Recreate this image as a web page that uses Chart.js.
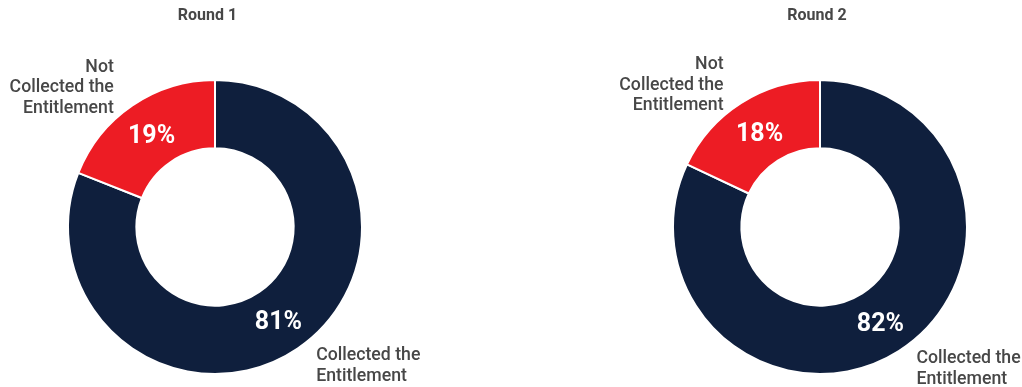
<!DOCTYPE html>
<html>
<head>
<meta charset="utf-8">
<script src="https://cdn.jsdelivr.net/npm/chart.js@4.4.1/dist/chart.umd.min.js"></script>
<style>
  html, body { margin: 0; padding: 0; background: #fff; overflow: hidden; }
  #wrap { position: relative; width: 1022px; height: 387px; }
  .panel { position: absolute; top: 0; height: 387px; }
</style>
</head>
<body>
<div id="wrap">
  <div class="panel" style="left:0;width:430px"><canvas id="round1"></canvas></div>
  <div class="panel" style="left:560px;width:462px"><canvas id="round2"></canvas></div>
</div>
<script>
// Survey rounds and the share of respondents per outcome (percent)
const roundTitles = ['Round 1', 'Round 2'];
const categories = [
  ['Collected the', 'Entitlement'],
  ['Not', 'Collected the', 'Entitlement']
];
const round1Values = [81, 19];
const round2Values = [82, 18];
const sliceColors = ['#0f1f3d', '#ed1c24'];

const TEXT_GREY = '#474747';

// Draws the percentage inside each slice and the category name outside it
const sliceLabels = {
  id: 'sliceLabels',
  afterDatasetsDraw(chart, args, opts) {
    const ctx = chart.ctx;
    const ds = chart.data.datasets[0];
    const total = ds.data.reduce((a, b) => a + b, 0);
    chart.getDatasetMeta(0).data.forEach((arc, i) => {
      const p = arc.getProps(['x', 'y', 'startAngle', 'endAngle', 'innerRadius', 'outerRadius'], true);
      const mid = (p.startAngle + p.endAngle) / 2;
      const cos = Math.cos(mid), sin = Math.sin(mid);

      ctx.save();
      // value inside the ring, caps centred on the ring's mid radius
      const rMid = (p.innerRadius + p.outerRadius) / 2;
      const valueSize = 25;
      ctx.fillStyle = '#ffffff';
      ctx.font = 'bold ' + valueSize + 'px Roboto';
      ctx.textAlign = 'center';
      ctx.textBaseline = 'alphabetic';
      ctx.fillText(Math.round(ds.data[i] / total * 100) + '%',
        p.x + cos * rMid, p.y + sin * rMid + valueSize * 0.355);

      // category name outside the ring
      const ax = p.x + cos * (p.outerRadius + opts.gapX);
      const ay = p.y + sin * (p.outerRadius + opts.gapY);
      const lines = chart.data.labels[i];
      const lh = opts.lineHeight;
      ctx.fillStyle = TEXT_GREY;
      ctx.font = '500 17.7px Roboto';
      ctx.textAlign = cos < 0 ? 'right' : 'left';
      ctx.textBaseline = 'middle';
      const top = ay - (lines.length * lh) / 2 + lh / 2;
      lines.forEach((line, k) => ctx.fillText(line, ax, top + k * lh));
      ctx.restore();
    });
  }
};

// Panel heading drawn above the ring
const panelTitle = {
  id: 'panelTitle',
  afterDraw(chart, args, opts) {
    const ctx = chart.ctx;
    const a = chart.chartArea;
    ctx.save();
    ctx.fillStyle = TEXT_GREY;
    ctx.font = 'bold 16px Roboto';
    ctx.textAlign = 'center';
    ctx.textBaseline = 'middle';
    ctx.fillText(opts.text, (a.left + a.right) / 2 + opts.dx, opts.y);
    ctx.restore();
  }
};

function makeRing(id, title, values, padding, titleDx) {
  return new Chart(document.getElementById(id), {
    type: 'doughnut',
    data: {
      labels: categories,
      datasets: [{
        data: values,
        backgroundColor: sliceColors,
        borderColor: '#ffffff',
        borderWidth: 2,
        radius: 147,
        cutout: '53.5%'
      }]
    },
    options: {
      responsive: true,
      maintainAspectRatio: false,
      animation: false,
      layout: { padding: padding },
      plugins: {
        legend: { display: false },
        tooltip: { enabled: false },
        title: { display: false },
        sliceLabels: { gapX: 33, gapY: 21, lineHeight: 20.6 },
        panelTitle: { text: title, dx: titleDx, y: 16 }
      }
    },
    plugins: [sliceLabels, panelTitle]
  });
}

makeRing('round1', roundTitles[0], round1Values, { top: 80, bottom: 13, left: 0, right: 0 }, -7.5);
makeRing('round2', roundTitles[1], round2Values, { top: 80, bottom: 13, left: 58, right: 0 }, -3);
</script>
</body>
</html>
